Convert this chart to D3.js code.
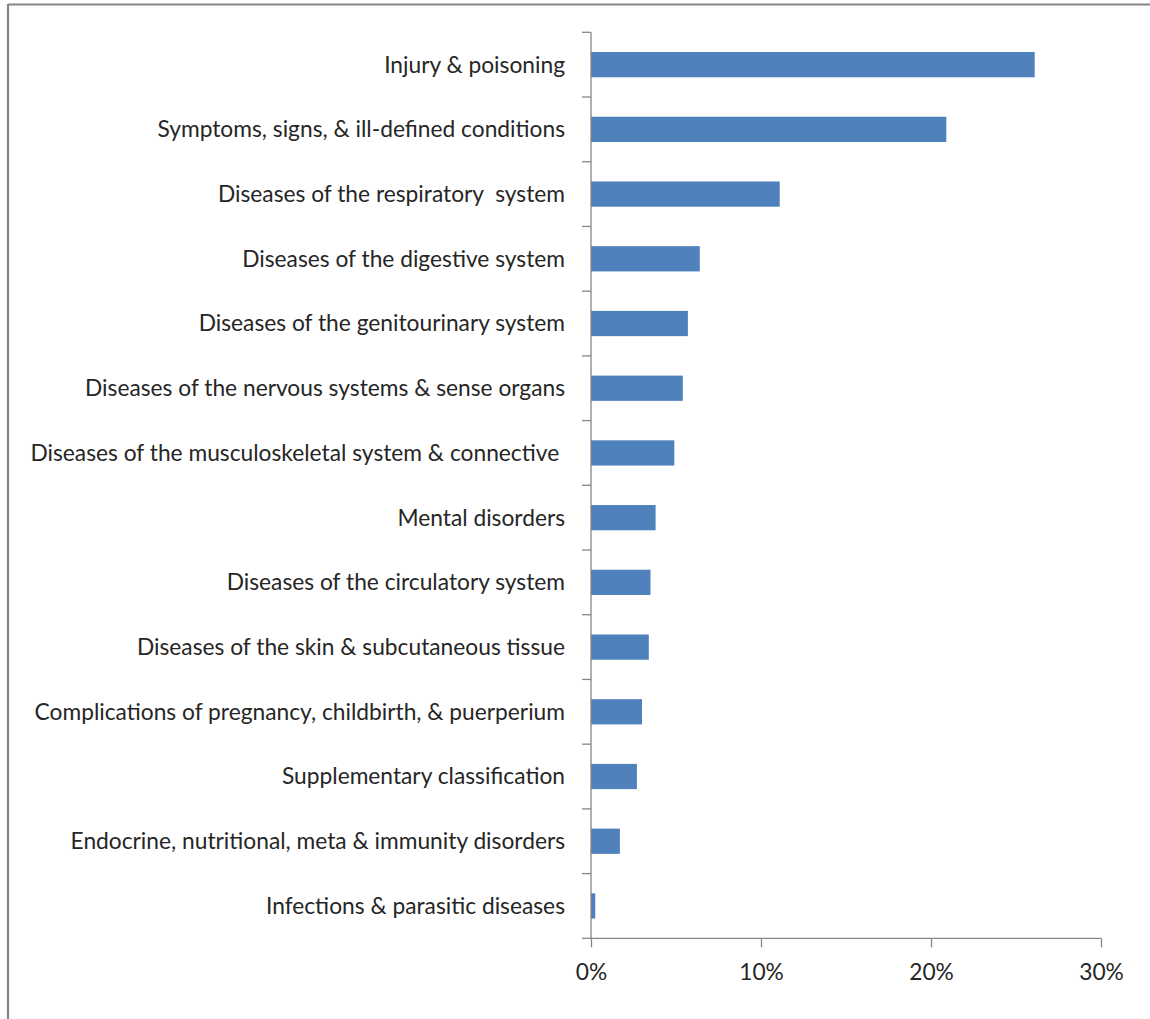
<!DOCTYPE html>
<html><head><meta charset="utf-8">
<script src="https://cdn.jsdelivr.net/npm/d3@7"></script>
<style>body{margin:0;background:#fff;}svg{display:block;}</style>
</head><body>
<svg id="c" width="1150" height="1019"></svg>
<script>
const categories = [
  "Injury & poisoning",
  "Symptoms, signs, & ill-defined conditions",
  "Diseases of the respiratory  system",
  "Diseases of the digestive system",
  "Diseases of the genitourinary system",
  "Diseases of the nervous systems & sense organs",
  "Diseases of the musculoskeletal system & connective ",
  "Mental disorders",
  "Diseases of the circulatory system",
  "Diseases of the skin & subcutaneous tissue",
  "Complications of pregnancy, childbirth, & puerperium",
  "Supplementary classification",
  "Endocrine, nutritional, meta & immunity disorders",
  "Infections & parasitic diseases"
];
const values = [0.261, 0.209, 0.111, 0.064, 0.057, 0.054, 0.049, 0.038, 0.035, 0.034, 0.030, 0.027, 0.017, 0.0025];
const xTicks = [0, 0.1, 0.2, 0.3];
const xTickLabels = ["0%", "10%", "20%", "30%"];

const svg = d3.select("#c");
const FONT = "Lato, 'Open Sans', sans-serif";
const textColor = "#262626";
const axisColor = "#868686";

// frame border (partially visible)
svg.append("line").attr("x1", 8).attr("x2", 1150).attr("y1", 4.5).attr("y2", 4.5)
  .attr("stroke", "#858585").attr("stroke-width", 2.2);
svg.append("line").attr("x1", 8).attr("x2", 8).attr("y1", 4).attr("y2", 1019)
  .attr("stroke", "#858585").attr("stroke-width", 2.2);

// scale font to match reference label width
const probe = svg.append("text").attr("font-family", FONT).attr("font-size", 100).text("Injury & poisoning");
const w100 = probe.node().getComputedTextLength();
probe.remove();
const fs = 181 / w100 * 100;

const x = d3.scaleLinear().domain([0, 0.3]).range([591, 1101]);
const y = d3.scaleBand().domain(categories).range([32.3, 938.3]).paddingInner(0.61).paddingOuter(0.305);

// bars
svg.append("g").selectAll("rect").data(values).join("rect")
  .attr("x", x(0))
  .attr("y", (d, i) => y(categories[i]))
  .attr("width", d => x(d) - x(0))
  .attr("height", y.bandwidth())
  .attr("fill", "#4F81BD");

// y axis: line + boundary ticks
const step = y.step();
const yAxisG = svg.append("g");
yAxisG.append("line").attr("x1", x(0)).attr("x2", x(0)).attr("y1", 32.3).attr("y2", 938.3)
  .attr("stroke", axisColor).attr("stroke-width", 1.3);
const bounds = d3.range(categories.length + 1).map(i => 32.3 + i * step);
yAxisG.selectAll("line.t").data(bounds).join("line").attr("class", "t")
  .attr("x1", x(0) - 9).attr("x2", x(0)).attr("y1", d => d).attr("y2", d => d)
  .attr("stroke", axisColor).attr("stroke-width", 1.3);

// category labels
svg.append("g").selectAll("text").data(categories).join("text")
  .attr("x", 565)
  .attr("y", d => y(d) + y.bandwidth() / 2)
  .attr("dy", "0.35em")
  .attr("text-anchor", "end")
  .attr("font-family", FONT).attr("font-size", fs)
  .attr("fill", textColor)
  .style("white-space", "pre")
  .text(d => d);

// x axis
const xAxis = d3.axisBottom(x).tickValues(xTicks).tickSize(9)
  .tickFormat((d, i) => xTickLabels[i]);
const gx = svg.append("g").attr("transform", "translate(0,938.3)").call(xAxis);
gx.select(".domain").attr("stroke", axisColor).attr("stroke-width", 1.3).attr("d", `M${x(0)},0H${x(0.3)}`);
gx.selectAll(".tick line").attr("stroke", axisColor).attr("stroke-width", 1.3);
gx.selectAll(".tick text").attr("y", 34).attr("dy", "0.35em")
  .attr("font-family", FONT).attr("font-size", fs).attr("fill", textColor);
</script>
</body></html>
